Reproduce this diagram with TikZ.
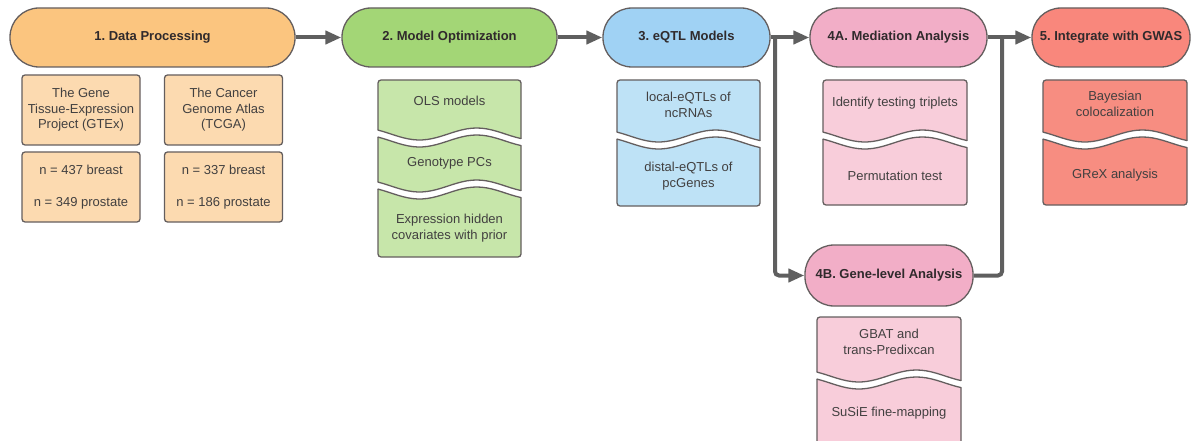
\documentclass[tikz,border=0pt]{standalone}
\usepackage{fontspec}
\setmainfont{Liberation Sans}
\usepackage{xcolor}
\usepackage{tikz}
\usetikzlibrary{arrows.meta,positioning}

\definecolor{edgegray}{RGB}{100,94,94}
\definecolor{arrowgray}{RGB}{95,95,95}
\definecolor{labeltext}{RGB}{48,42,44}
\definecolor{subtext}{RGB}{66,64,64}
\definecolor{dpmain}{RGB}{251,197,127}
\definecolor{dpsub}{RGB}{252,218,176}
\definecolor{momain}{RGB}{163,214,118}
\definecolor{mosub}{RGB}{199,230,170}
\definecolor{eqmain}{RGB}{160,210,244}
\definecolor{eqsub}{RGB}{190,226,246}
\definecolor{anmain}{RGB}{242,174,199}
\definecolor{ansub}{RGB}{248,205,218}
\definecolor{gwmain}{RGB}{249,135,124}
\definecolor{gwsub}{RGB}{247,141,129}

% white wavy cut across a column: left x, right x, wave centre
\newcommand{\waveband}[3]{%
  \fill[white] plot[domain=-0.02:1.02,samples=30] ({#1+\x*(#2-#1)},{#3+6*cos(450*(\x-0.29))})
    -- plot[domain=-0.02:1.02,samples=30] ({#2-\x*(#2-#1)},{#3+7+6*cos(450*(0.71-\x))}) -- cycle;
  \draw[piece] plot[domain=0:1,samples=30] ({#1+\x*(#2-#1)},{#3+6*cos(450*(\x-0.29))});
  \draw[piece] plot[domain=0:1,samples=30] ({#1+\x*(#2-#1)},{#3+7+6*cos(450*(\x-0.29))});}

\begin{document}
\begin{tikzpicture}[x=1pt,y=-1pt,
  stage/.style={draw=edgegray,line width=1.3pt,rounded corners=29pt,minimum height=59pt,
    inner sep=0pt,text=labeltext,font=\bfseries\fontsize{13}{15}\selectfont\frenchspacing},
  source/.style={draw=edgegray,line width=1.3pt,rounded corners=3pt,fill=dpsub,
    minimum width=118pt,minimum height=70pt,inner sep=0pt,align=center,
    text=subtext,font=\fontsize{13}{15.5}\selectfont},
  piece/.style={draw=edgegray,line width=1.3pt,line cap=round},
  piecetext/.style={align=center,text=subtext,font=\fontsize{13}{16}\selectfont},
  flow/.style={draw=arrowgray,line width=4pt,-{Triangle[length=16pt,width=13pt]}},
  link/.style={draw=arrowgray,line width=4pt,rounded corners=4pt}]

  \useasboundingbox (0,0) rectangle (1192,441);

  % stages
  \node[stage,fill=dpmain,minimum width=285pt] (dp) at (152.5,37.5) {1. Data Processing};
  \node[stage,fill=momain,minimum width=215pt] (mo) at (449.5,37.5) {2. Model Optimization};
  \node[stage,fill=eqmain,minimum width=167pt] (eq) at (686.5,37.5) {3. eQTL Models};
  \node[stage,fill=anmain,minimum width=177pt] (med) at (898.5,37.5) {4A. Mediation Analysis};
  \node[stage,fill=gwmain,minimum width=158pt] (gw) at (1111,37.5) {5. Integrate with GWAS};
  \node[stage,fill=anmain,minimum width=168pt,minimum height=61pt] (gl) at (889,275.5) {4B. Gene-level Analysis};

  % data sources
  \node[source] (gtex) at (81,110) {The Gene\\Tissue-Expression\\Project (GTEx)};
  \node[source] (tcga) at (223.5,110) {The Cancer\\Genome Atlas\\(TCGA)};
  \node[source] (gtexn) at (81,187) {n = 437 breast\\[16pt]n = 349 prostate};
  \node[source] (tcgan) at (223.5,187) {n = 337 breast\\[16pt]n = 186 prostate};

  % stacked pieces
  \filldraw[piece,fill=mosub,rounded corners=3pt] (378,80) rectangle (521,257);
  \waveband{378}{521}{134}
  \waveband{378}{521}{186}
  \filldraw[piece,fill=eqsub,rounded corners=3pt] (617,80) rectangle (760,206);
  \waveband{617}{760}{136}
  \filldraw[piece,fill=ansub,rounded corners=3pt] (823,80) rectangle (967,205);
  \waveband{823}{967}{136}
  \filldraw[piece,fill=gwsub,rounded corners=3pt] (1043,80) rectangle (1187,205);
  \waveband{1043}{1187}{136}
  \filldraw[piece,fill=ansub,rounded corners=3pt] (817,317) rectangle (961,450);
  \waveband{817}{961}{376}

  \node[piecetext] (ols) at (449.5,101) {OLS models};
  \node[piecetext] (genopc) at (449.5,163) {Genotype PCs};
  \node[piecetext] (hidden) at (449.5,228) {Expression hidden\\covariates with prior};
  \node[piecetext] (localq) at (688.5,105) {local-eQTLs of\\ncRNAs};
  \node[piecetext] (distalq) at (688.5,176) {distal-eQTLs of\\pcGenes};
  \node[piecetext] (triplets) at (895,103) {Identify testing triplets};
  \node[piecetext] (permtest) at (895,176) {Permutation test};
  \node[piecetext] (coloc) at (1115,104) {Bayesian\\colocalization};
  \node[piecetext] (grex) at (1115,175) {GReX analysis};
  \node[piecetext] (gbat) at (889,342) {GBAT and\\trans-Predixcan};
  \node[piecetext] (susie) at (889,413) {SuSiE fine-mapping};

  % connectors
  \coordinate (split) at (775,37.5);
  \coordinate (merge) at (1002,37.5);
  \draw[flow] (dp) -- (mo);
  \draw[flow] (mo) -- (eq);
  \draw[flow] (eq) -- (med);
  \draw[flow] (med) -- (gw);
  \draw[flow,rounded corners=4pt] (split) |- (gl);
  \draw[link] (gl) -| (merge);
\end{tikzpicture}
\end{document}
